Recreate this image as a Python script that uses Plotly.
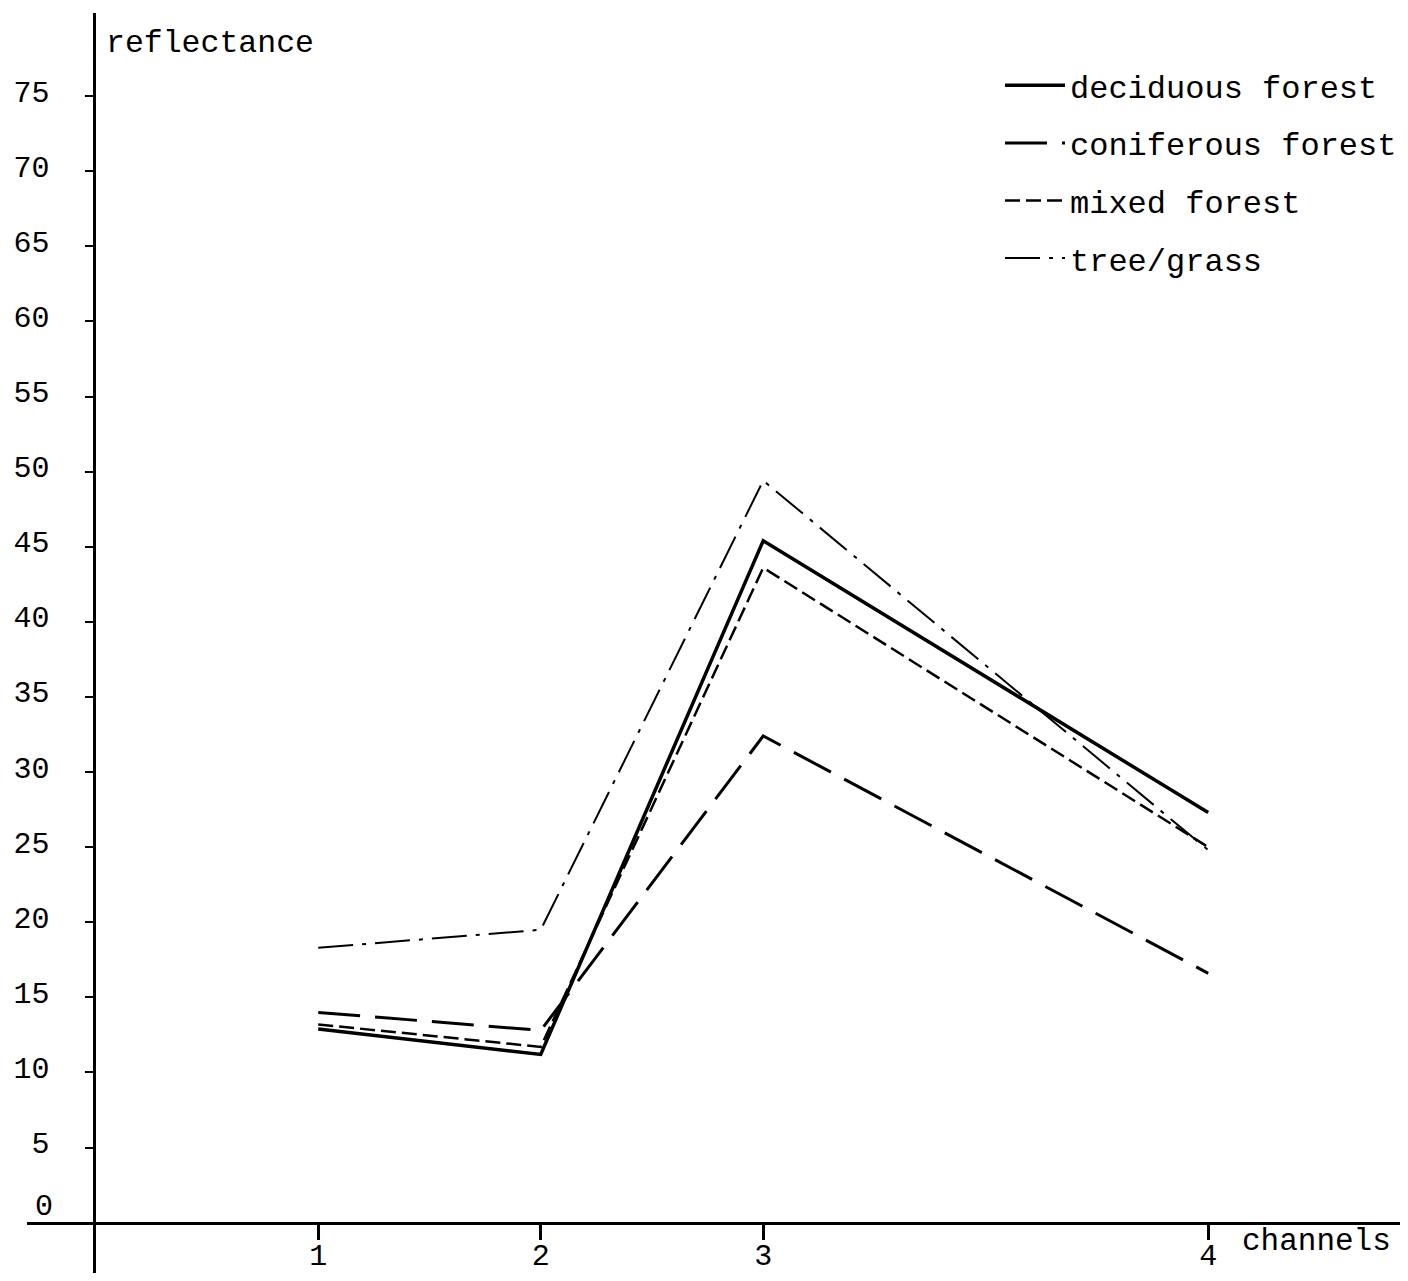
import plotly.graph_objects as go

# ---- data ----
channel_labels = ["1", "2", "3", "4"]
channel_pos = [1, 2, 3, 5]          # position of each channel on the horizontal scale
series_names = ["deciduous forest", "coniferous forest", "mixed forest", "tree/grass"]
deciduous = [12.9, 11.2, 45.4, 27.3]
coniferous = [14.0, 12.8, 32.4, 16.6]
mixed = [13.2, 11.7, 43.6, 25.0]
tree_grass = [18.3, 19.5, 49.4, 24.8]
y_ticks = list(range(0, 80, 5))
y_ticktext = ["" if v == 0 else str(v) for v in y_ticks]   # "0" is written just above the axis

FONT = "Liberation Mono, Courier New, monospace"
# the page body has an 8px margin, so the figure is 8px smaller than the window
W, H = 1400, 1265
ML, MR, MT, MB = 19, 0, 5, 0
PW, PH = W - ML - MR, H - MT - MB
OFF = 8


def px(X):
    return (X - OFF - ML) / PW


def py(Y):
    return (H - (Y - OFF) - MB) / PH


styles = [
    dict(width=3.5, dash="solid"),
    dict(width=3, dash="42px,15px"),
    dict(width=2.5, dash="15px,6px"),
    dict(width=2, dash="35px,9px,4px,9px"),
]

fig = go.Figure()
for name, vals, st in zip(series_names, [deciduous, coniferous, mixed, tree_grass], styles):
    fig.add_trace(go.Scatter(
        x=channel_pos, y=vals, mode="lines", name=name,
        line=dict(color="black", width=st["width"], dash=st["dash"]),
        legendgroup=name,
    ))

fig.update_layout(
    width=W, height=H,
    margin=dict(l=ML, r=MR, t=MT, b=MB, autoexpand=False),
    paper_bgcolor="white", plot_bgcolor="white",
    font=dict(family=FONT, size=30, color="black"),
    showlegend=True,
    legend=dict(
        x=px(1000), y=py(58),
        xanchor="left", yanchor="top",
        bgcolor="rgba(0,0,0,0)",
        font=dict(family=FONT, size=32, color="black"),
        itemwidth=60, tracegroupgap=13,
    ),
    xaxis=dict(
        range=[-0.309, 5.898],
        tickmode="array", tickvals=channel_pos, ticktext=channel_labels,
        ticks="outside", ticklen=15, tickwidth=2.5, tickcolor="black",
        showline=True, linecolor="black", linewidth=3,
        showgrid=False, zeroline=False, automargin=False,
        anchor="free", position=py(1222.7),
        ticklabelstandoff=-11,
        tickfont=dict(family=FONT, size=30, color="black"),
    ),
    yaxis=dict(
        range=[-3.35, 80.53],
        tickmode="array", tickvals=y_ticks, ticktext=y_ticktext,
        ticks="outside", ticklen=8, tickwidth=2, tickcolor="black",
        showline=True, linecolor="black", linewidth=3,
        showgrid=False, zeroline=False, automargin=False,
        anchor="free", position=px(93.5),
        ticklabelstandoff=29, ticklabelshift=-5,
        tickfont=dict(family=FONT, size=30, color="black"),
    ),
    annotations=[
        dict(text="0", xref="paper", yref="paper",
             x=px(55), y=py(1207),
             xanchor="right", yanchor="middle", showarrow=False,
             font=dict(family=FONT, size=30, color="black")),
        dict(text="reflectance", xref="paper", yref="paper",
             x=px(104), y=py(43),
             xanchor="left", yanchor="middle", showarrow=False,
             font=dict(family=FONT, size=31.5, color="black")),
        dict(text="channels", xref="paper", yref="paper",
             x=px(1240), y=py(1241),
             xanchor="left", yanchor="middle", showarrow=False,
             font=dict(family=FONT, size=31, color="black")),
    ],
)

fig.write_html("out.html")
